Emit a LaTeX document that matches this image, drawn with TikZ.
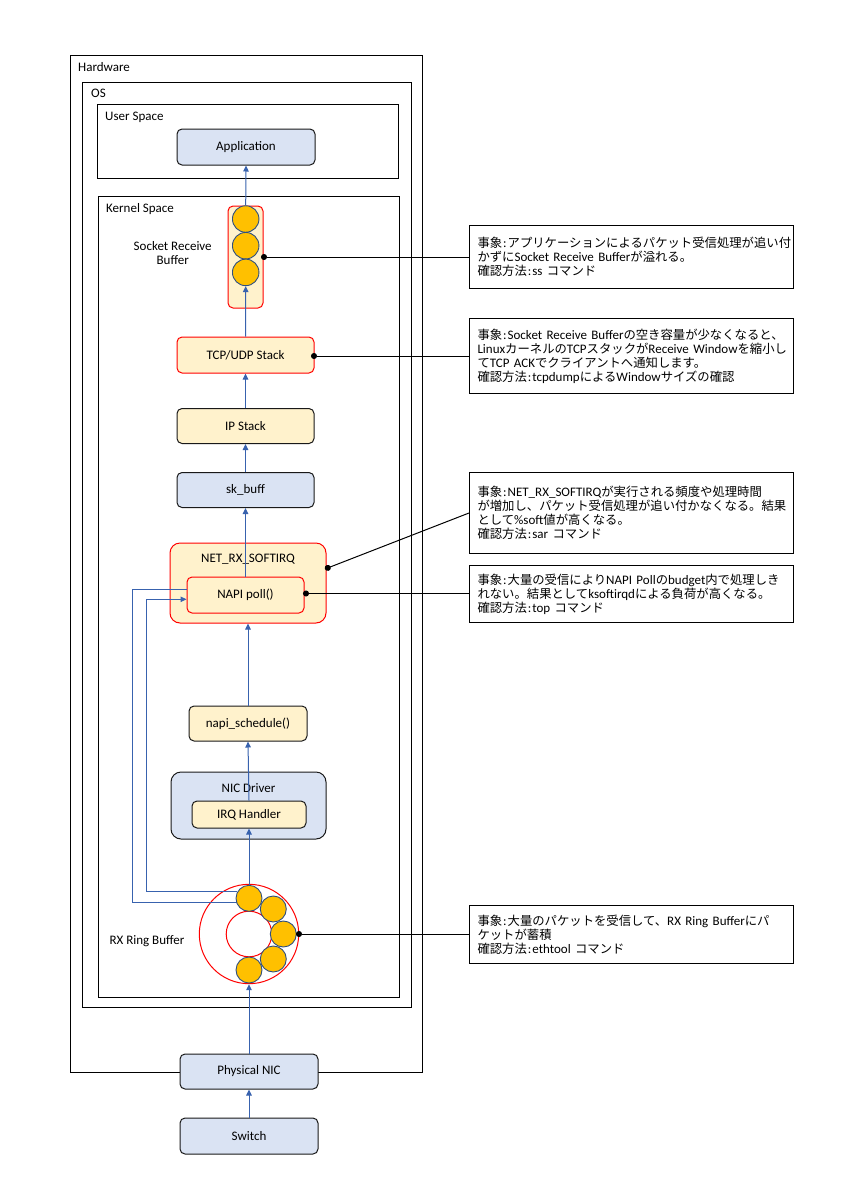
\documentclass[tikz,border=0pt]{standalone}
\usepackage{fontspec}
\setmainfont{Carlito}
\newfontfamily\jpf{Noto Sans CJK JP}[Scale=0.95]
\usetikzlibrary{arrows.meta}
\XeTeXinterchartokenstate=1
\newXeTeXintercharclass\JPclass
\count255="3000
\loop\XeTeXcharclass\count255=\JPclass\advance\count255 by 1 \ifnum\count255<"3100 \repeat
\count255="4E00
\loop\XeTeXcharclass\count255=\JPclass\advance\count255 by 1 \ifnum\count255<"A000 \repeat
\count255="FF00
\loop\XeTeXcharclass\count255=\JPclass\advance\count255 by 1 \ifnum\count255<"FFF0 \repeat
\XeTeXinterchartoks 0 \JPclass = {\jpf}
\XeTeXinterchartoks 4095 \JPclass = {\jpf}
\XeTeXinterchartoks \JPclass 0 = {\rmfamily}
\XeTeXinterchartoks \JPclass 4095 = {\rmfamily}
\newcommand{\cln}{\hspace{1pt}:\hspace{1pt}}
\newcommand{\tl}[1]{\mbox{#1}}
\definecolor{lblue}{HTML}{DAE3F3}
\definecolor{lyel}{HTML}{FFF2CC}
\definecolor{ared}{HTML}{FF0000}
\definecolor{lineblue}{HTML}{3862AE}
\definecolor{orng}{HTML}{FFC000}
\definecolor{cborder}{HTML}{2F4F7F}
\tikzset{
  cont/.style={draw=black, line width=1pt, anchor=north west, inner sep=0pt},
  lbl/.style={anchor=west, inner sep=0pt},
  bluebox/.style={draw=black!90, fill=lblue, rounded corners=5pt, line width=1pt, inner sep=0pt},
  yelbox/.style={draw=black!90, fill=lyel, rounded corners=5pt, line width=1pt, inner sep=0pt},
  redbox/.style={draw=ared, fill=lyel, rounded corners=5pt, line width=1pt, inner sep=0pt},
  pkt/.style={circle, draw=cborder, fill=orng, line width=0.9pt, minimum size=26.5pt, inner sep=0pt},
  ringc/.style={circle, draw=ared, line width=1pt, inner sep=0pt},
  arr/.style={draw=lineblue, line width=1pt, -{Triangle[length=6pt,width=5.5pt]}},
  fb/.style={draw=lineblue, line width=1pt},
  note/.style={draw=black, line width=1pt, align=left, inner xsep=8pt, inner ysep=0pt, text width=308pt, anchor=north west},
  callout/.style={draw=black, line width=1pt, {Circle[length=6pt]}-},
}
\begin{document}
\begin{tikzpicture}[x=1pt, y=-1pt, font=\fontsize{13}{14}\selectfont]
\useasboundingbox (0,0) rectangle (853,1200);
% containers
\node[cont, minimum width=352pt, minimum height=1017pt] (hw) at (70,55) {};
\node[lbl] (hwl) at (78,67) {Hardware};
\node[cont, minimum width=329pt, minimum height=925pt] (os) at (82,82) {};
\node[lbl] (osl) at (91,93) {OS};
\node[cont, minimum width=301pt, minimum height=74pt] (us) at (97,104) {};
\node[lbl] (usl) at (105,117) {User Space};
\node[cont, minimum width=301pt, minimum height=801pt] (ks) at (98,196) {};
\node[lbl] (ksl) at (106,209) {Kernel Space};

% user space
\node[bluebox, minimum width=138pt, minimum height=36pt] (app) at (246,147) {Application};

% socket buffer
\node[redbox, minimum width=35pt, minimum height=102pt] (sock) at (245.5,257) {};
\node[pkt] (s1) at (245.7,219) {};
\node[pkt] (s2) at (245.7,245.7) {};
\node[pkt] (s3) at (245.7,272.4) {};
\node[align=center, inner sep=0pt] (sockl) at (172.7,253) {Socket Receive\\Buffer};

% stack
\node[redbox, minimum width=137pt, minimum height=36pt] (tcp) at (245.5,355) {TCP/UDP Stack};
\node[yelbox, minimum width=137pt, minimum height=35pt] (ip) at (245.5,426) {IP Stack};
\node[bluebox, minimum width=137pt, minimum height=35pt] (skb) at (245.5,490) {sk\_buff};

% softirq
\node[redbox, rounded corners=10pt, minimum width=156pt, minimum height=80pt] (netrx) at (248,583) {};
\node[inner sep=0pt] (netrxl) at (248,559) {NET\_RX\_SOFTIRQ};
\node[redbox, minimum width=117pt, minimum height=36pt] (napi) at (245.5,595) {NAPI poll()};

\node[yelbox, minimum width=118pt, minimum height=35pt] (napis) at (248,723.5) {napi\_schedule()};

\node[bluebox, rounded corners=10pt, minimum width=155pt, minimum height=67pt] (nicd) at (248.5,805.5) {};
\node[inner sep=0pt] (nicdl) at (248.5,788) {NIC Driver};
\node[yelbox, minimum width=114pt, minimum height=27pt] (irq) at (249,814.5) {IRQ Handler};

% ring buffer
\node[ringc, minimum size=99.4pt] (ring) at (249,934) {};
\node[ringc, minimum size=45.6pt] (ringin) at (249,934) {};
\node[inner sep=0pt] (ringl) at (147,941) {RX Ring Buffer};

% feedback lines (under packets)
\coordinate (fbo) at (237,902.3);
\coordinate (fbi) at (237,891.7);
\draw[fb] (napi.west |- 0,589.3) -- (132.7,589.3) -- (132.7,902.3) -- (fbo);
\draw[arr] (fbi) -- (146,891.7) -- (146,599.3) -- (napi.west |- 0,599.3);

\node[pkt, minimum size=26pt] (r1) at (249,898.3) {};
\node[pkt, minimum size=26pt] (r2) at (273.3,909) {};
\node[pkt, minimum size=26pt] (r3) at (283.3,934) {};
\node[pkt, minimum size=26pt] (r4) at (273.3,959) {};
\node[pkt, minimum size=26pt] (r5) at (249,970) {};

% hardware
\node[bluebox, minimum width=138pt, minimum height=35pt] (pnic) at (249,1071.5) {Physical NIC};
\node[bluebox, minimum width=138pt, minimum height=36pt] (sw) at (249,1136) {Switch};

% flow arrows
\draw[arr] (s1.north) -- (app.south);
\draw[arr] (tcp.north) -- (s3.south);
\draw[arr] (ip.north) -- (tcp.south);
\draw[arr] (skb.north) -- (ip.south);
\draw[arr] (napi.north) -- (skb.south);
\draw[arr] (napis.north) -- (netrx.south);
\draw[arr] (irq.north) -- (napis.south);
\draw[arr] (r1.north) -- (irq.south);
\draw[arr] (pnic.north) -- (ring.south);
\draw[arr] (sw.north) -- (pnic.south);

% notes
\node[note, minimum height=63pt] (n1) at (469,225) {\tl{事象\cln アプリケーションによるパケット受信処理が追い付}\\\tl{かずにSocket Receive Bufferが溢れる。}\\\tl{確認方法\cln ss コマンド}};
\node[note, minimum height=75pt] (n2) at (469,318) {\tl{事象\cln Socket Receive Bufferの空き容量が少なくなると、}\\\tl{LinuxカーネルのTCPスタックがReceive Windowを縮小し}\\\tl{てTCP ACKでクライアントへ通知します。}\\\tl{確認方法\cln tcpdumpによるWindowサイズの確認}};
\node[note, minimum height=81pt] (n3) at (469,472) {\tl{事象\cln NET\_RX\_SOFTIRQが実行される頻度や処理時間}\\\tl{が増加し、パケット受信処理が追い付かなくなる。結果}\\\tl{として\%soft値が高くなる。}\\\tl{確認方法\cln sar コマンド}};
\node[note, minimum height=57pt] (n4) at (469,565) {\tl{事象\cln 大量の受信によりNAPI Pollのbudget内で処理しき}\\\tl{れない。結果としてksoftirqdによる負荷が高くなる。}\\\tl{確認方法\cln top コマンド}};
\node[note, minimum height=58pt] (n5) at (469,905) {\tl{事象\cln 大量のパケットを受信して、RX Ring Bufferにパ}\\\tl{ケットが蓄積}\\\tl{確認方法\cln ethtool コマンド}};

% callouts
\draw[callout] (261,257) -- (n1.west |- 0,257);
\draw[callout] (311,356) -- (n2.west |- 0,356);
\draw[callout] (325,569) -- (n3.west);
\draw[callout] (303,593.5) -- (n4.west |- 0,593.5);
\draw[callout] (296,934) -- (n5.west |- 0,934);
\end{tikzpicture}
\end{document}
